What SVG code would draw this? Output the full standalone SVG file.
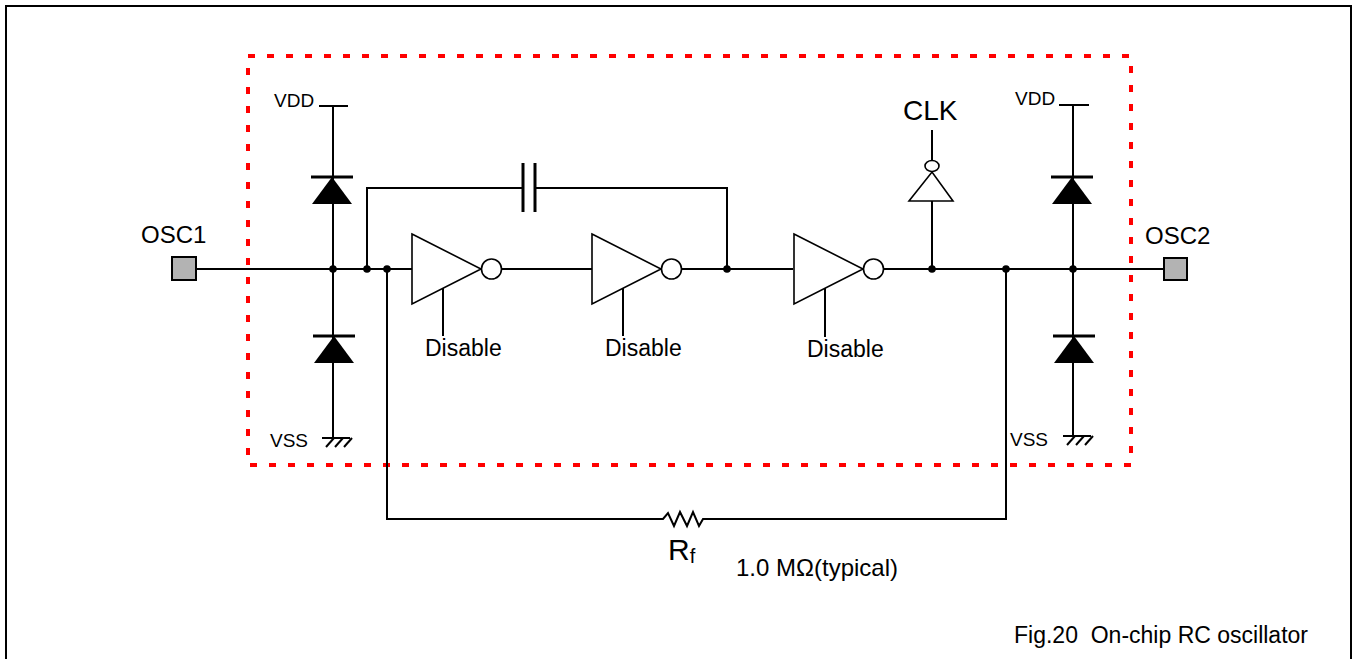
<svg xmlns="http://www.w3.org/2000/svg" width="1356" height="659" viewBox="0 0 1356 659">
<style>
  .w { stroke:#000; stroke-width:2; fill:none; }
  .gate { stroke:#000; stroke-width:1.6; fill:#fff; }
  .fillb { fill:#000; stroke:none; }
  .bar { stroke:#000; stroke-width:3; fill:none; }
  .t { font-family:"Liberation Sans", Arial, sans-serif; fill:#000; }
  .pad { fill:#b3b3b3; stroke:#000; stroke-width:2; }
  .dot { fill:#000; }
</style>
<defs>
  <g id="inv">
    <polygon class="gate" points="0,-35 69,0 0,35"/>
    <circle class="gate" cx="79.5" cy="0" r="10"/>
  </g>
  <g id="ground">
    <line class="w" x1="-12" y1="0" x2="16" y2="0"/>
    <line class="w" x1="-8" y1="9" x2="0" y2="0" stroke-width="1.3"/>
    <line class="w" x1="1" y1="9" x2="9" y2="0" stroke-width="1.3"/>
    <line class="w" x1="10" y1="9" x2="18" y2="0" stroke-width="1.3"/>
  </g>
  <g id="diode">
    <line class="bar" x1="-21" y1="0" x2="21" y2="0"/>
    <polygon class="fillb" points="0,0 20,27 -20,27"/>
  </g>
</defs>
<rect width="1356" height="659" fill="#fff"/>
<path d="M6,659 V6 H1351 V659" fill="none" stroke="#000" stroke-width="2"/>
<rect x="248" y="56" width="883" height="409" fill="none" stroke="#ff0000" stroke-width="4" stroke-dasharray="7 12"/>

<g id="connectors">
  <line class="w" x1="196" y1="269" x2="412" y2="269"/>
  <line class="w" x1="501" y1="269" x2="592" y2="269"/>
  <line class="w" x1="681" y1="269" x2="793" y2="269"/>
  <line class="w" x1="883" y1="269" x2="1164" y2="269"/>
  <line class="w" x1="333" y1="106" x2="333" y2="438"/>
  <line class="w" x1="1073" y1="105" x2="1073" y2="436"/>
  <polyline class="w" points="367,269 367,188 523,188"/>
  <polyline class="w" points="535,188 727,188 727,269"/>
  <polyline class="w" points="387,269 387,519 663,519 668,513 674,526 680,512 687,526 693,512 699,526 703,519 1006,519 1006,269"/>
  <line class="w" x1="932" y1="269" x2="932" y2="201"/>
  <line class="w" x1="932" y1="160" x2="932" y2="130"/>
  <line class="w" x1="443" y1="288" x2="443" y2="336"/>
  <line class="w" x1="623" y1="288" x2="623" y2="336"/>
  <line class="w" x1="825" y1="288" x2="825" y2="337"/>
  <circle class="dot" cx="333" cy="269" r="3.8"/>
  <circle class="dot" cx="367" cy="269" r="3.8"/>
  <circle class="dot" cx="387" cy="269" r="3.8"/>
  <circle class="dot" cx="727" cy="269" r="3.8"/>
  <circle class="dot" cx="932" cy="269" r="3.8"/>
  <circle class="dot" cx="1006" cy="269" r="3.8"/>
  <circle class="dot" cx="1073" cy="269" r="3.8"/>
</g>

<g id="osc1">
  <rect class="pad" x="172" y="257" width="24" height="23"/>
  <text class="t" x="141" y="243" font-size="24">OSC1</text>
</g>
<g id="osc2">
  <rect class="pad" x="1164" y="258" width="23" height="22"/>
  <text class="t" x="1145" y="244" font-size="24">OSC2</text>
</g>

<g id="left-vdd">
  <line class="w" x1="319" y1="106" x2="348" y2="106"/>
  <text class="t" x="274" y="107" font-size="19">VDD</text>
</g>
<g id="left-diode-top"><use href="#diode" x="332" y="177"/></g>
<g id="left-diode-bottom"><use href="#diode" x="334" y="336"/></g>
<g id="left-vss">
  <use href="#ground" x="334" y="438"/>
  <text class="t" x="270" y="447" font-size="19">VSS</text>
</g>

<g id="right-vdd">
  <line class="w" x1="1059" y1="105" x2="1089" y2="105"/>
  <text class="t" x="1015" y="105" font-size="19">VDD</text>
</g>
<g id="right-diode-top"><use href="#diode" x="1072" y="177"/></g>
<g id="right-diode-bottom"><use href="#diode" x="1074" y="336"/></g>
<g id="right-vss">
  <use href="#ground" x="1075" y="436"/>
  <text class="t" x="1010" y="446" font-size="19">VSS</text>
</g>

<g id="capacitor">
  <line class="bar" x1="523" y1="163" x2="523" y2="212"/>
  <line class="bar" x1="535" y1="163" x2="535" y2="212"/>
</g>

<g id="inverter1">
  <use href="#inv" x="412" y="269"/>
  <text class="t" x="425" y="356" font-size="23">Disable</text>
</g>
<g id="inverter2">
  <use href="#inv" x="592" y="269"/>
  <text class="t" x="605" y="356" font-size="23">Disable</text>
</g>
<g id="inverter3">
  <use href="#inv" x="794" y="269"/>
  <text class="t" x="807" y="357" font-size="23">Disable</text>
</g>

<g id="clk-buffer">
  <polygon class="gate" points="909,201 953,201 932,172"/>
  <ellipse class="gate" cx="932" cy="166" rx="7" ry="5.5"/>
  <text class="t" x="903" y="120" font-size="28">CLK</text>
</g>

<g id="rf-label">
  <text class="t" x="668" y="560" font-size="30">R<tspan font-size="20" dy="3">f</tspan></text>
  <text class="t" x="736" y="576" font-size="24">1.0 MΩ(typical)</text>
</g>

<g id="caption">
  <text class="t" x="1308" y="643" font-size="23" text-anchor="end" xml:space="preserve">Fig.20  On-chip RC oscillator</text>
</g>
</svg>
